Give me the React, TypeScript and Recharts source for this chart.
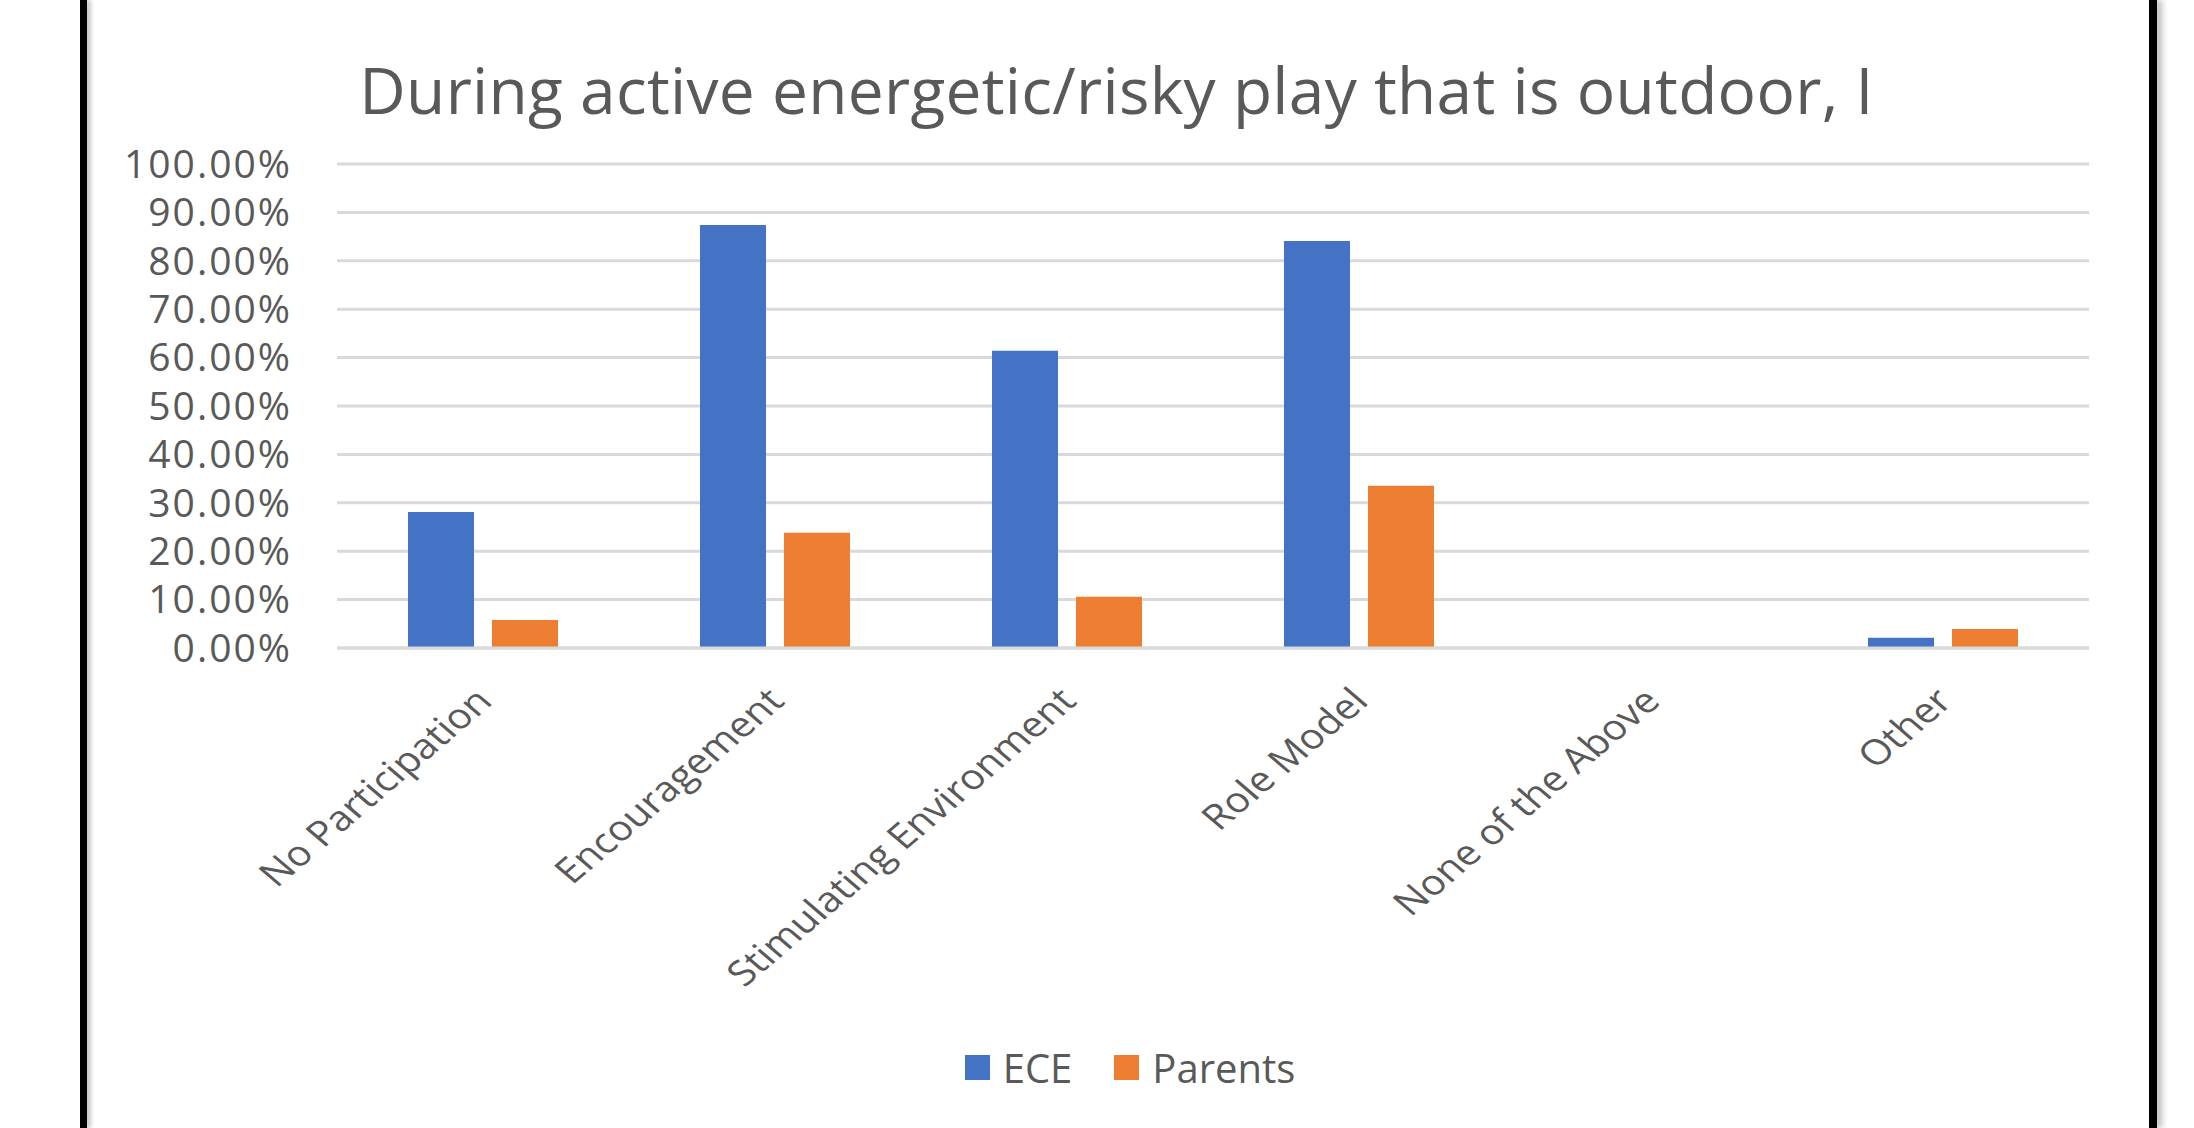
import { Bar, BarChart, CartesianGrid, Legend, XAxis, YAxis } from "recharts";

const TITLE = "During active energetic/risky play that is outdoor, I";
const CATEGORIES = ["No Participation", "Encouragement", "Stimulating Environment", "Role Model", "None of the Above", "Other"];
const ECE_VALUES = [28.1, 87.4, 61.4, 84.1, 0, 2.1];
const PARENT_VALUES = [5.8, 23.8, 10.6, 33.5, 0, 3.9];
const Y_TICKS = [0, 10, 20, 30, 40, 50, 60, 70, 80, 90, 100];

const FONT = "'Open Sans', 'Noto Sans', sans-serif";
const TEXT_COLOR = "#595959";
const GRID_COLOR = "#d9d9d9";

const data = CATEGORIES.map((category, i) => ({
	category,
	ece: ECE_VALUES[i],
	parents: PARENT_VALUES[i],
}));

// the source picture is a bit wider than tall, so the slanted labels sit at ~40deg
function CategoryTick({ x, y, payload }: any) {
	const tx = x + 11;
	const ty = y + 55;
	return (
		<text
			x={0}
			y={0}
			textAnchor="end"
			transform={`translate(${tx} ${ty}) scale(1.17 1) rotate(-45)`}
			fill={TEXT_COLOR}
			fontSize={35}
			fontFamily={FONT}
		>
			{payload.value}
		</text>
	);
}

function LegendContent({ payload }: any) {
	return (
		<div style={{ display: "flex", justifyContent: "center", alignItems: "center", gap: 42, fontFamily: FONT, fontSize: 40, color: TEXT_COLOR }}>
			{(payload || []).map((entry: any) => (
				<span key={entry.value} style={{ display: "flex", alignItems: "center" }}>
					<span style={{ display: "inline-block", width: 25, height: 25, background: entry.color, marginRight: 13 }} />
					{entry.value}
				</span>
			))}
		</div>
	);
}

export default function App() {
	return (
		<div style={{ position: "fixed", left: 0, top: 0, width: 2194, height: 1128, background: "#fff", overflow: "hidden" }}>
			{/* black frame edges with a soft shadow */}
			<div style={{ position: "absolute", left: 80, top: 0, width: 7, height: 1128, background: "#000", boxShadow: "4px 0 4px #c8c8c8" }} />
			<div style={{ position: "absolute", left: 2149, top: 0, width: 8, height: 1128, background: "#000", boxShadow: "5px 0 6px #bdbdbd" }} />

			<div
				style={{
					position: "absolute",
					left: 0,
					top: 58,
					width: 2233,
					textAlign: "center",
					fontFamily: FONT,
					fontSize: 64,
					letterSpacing: 0.3,
					lineHeight: 1,
					color: TEXT_COLOR,
					whiteSpace: "nowrap",
				}}
			>
				{TITLE}
			</div>

			<div style={{ position: "absolute", left: 0, top: 0 }}>
				<BarChart width={2194} height={1128} data={data} margin={{ top: 164, right: 105, bottom: 180, left: 0 }} barGap={18} barSize={66}>
					<CartesianGrid vertical={false} stroke={GRID_COLOR} strokeWidth={3} />
					<XAxis
						dataKey="category"
						height={300}
						interval={0}
						tickLine={false}
						tickSize={0}
						tickMargin={0}
						axisLine={{ stroke: GRID_COLOR, strokeWidth: 3 }}
						tick={CategoryTick}
					/>
					<YAxis
						width={337}
						domain={[0, 100]}
						ticks={Y_TICKS}
						interval={0}
						axisLine={false}
						tickLine={false}
						tickSize={0}
						tickMargin={45}
						tickFormatter={(value) => `${Number(value).toFixed(2)}%`}
						tick={{ fill: TEXT_COLOR, fontSize: 39, fontFamily: FONT, letterSpacing: 2 }}
					/>
					<Legend
						verticalAlign="middle"
						align="center"
						content={LegendContent}
						wrapperStyle={{ top: 1040, left: 0, width: 2260, height: 56 }}
					/>
					<Bar dataKey="ece" name="ECE" fill="#4472C4" isAnimationActive={false} />
					<Bar dataKey="parents" name="Parents" fill="#ED7D31" isAnimationActive={false} />
				</BarChart>
			</div>
		</div>
	);
}
